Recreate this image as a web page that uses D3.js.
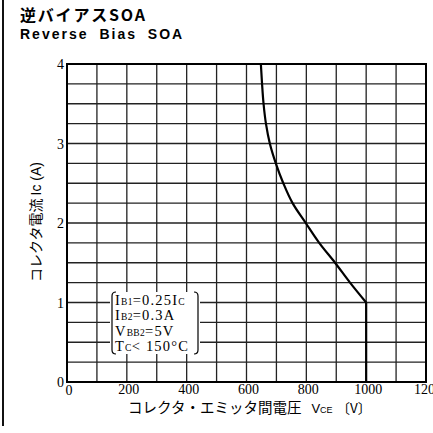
<!DOCTYPE html>
<html>
<head>
<meta charset="utf-8">
<script src="https://cdn.jsdelivr.net/npm/d3@7"></script>
<style>
  body { margin: 0; background: #fff; }
  svg { display: block; }
</style>
</head>
<body>
<svg></svg>
<script>
// curve of the reverse bias SOA
var vce = [648, 652, 657, 665, 678, 698, 723, 754, 798, 843, 896, 946, 1000, 1000];
var ic  = [4, 3.75, 3.5, 3.25, 3, 2.75, 2.5, 2.25, 2, 1.75, 1.5, 1.25, 1, 0];
var xTicks = [0, 200, 400, 600, 800, 1000, 1200];
var yTicks = [0, 1, 2, 3, 4];
var notes = [["I", "B1", "=0.25I", "C"], ["I", "B2", "=0.3A", ""], ["V", "BB2", "=5V", ""], ["T", "C", "< 150°C", ""]];

var width = 433;
var height = 433;
var pLeft = 67, pRight = 426, pTop = 64, pBottom = 382;

var svg = d3.select("svg")
            .attr("width", width)
            .attr("height", height);

var x = d3.scaleLinear().domain([0, 1200]).range([pLeft, pRight]);
var y = d3.scaleLinear().domain([0, 4]).range([pBottom, pTop]);

// scan border on the left
svg.append("line")
   .attr("x1", 3).attr("x2", 3)
   .attr("y1", 0).attr("y2", 426)
   .attr("stroke", "#111")
   .attr("stroke-width", 2);

// title
svg.append("text")
   .text("逆バイアスSOA")
   .attr("x", 20).attr("y", 21)
   .attr("font-family", "Noto Sans CJK JP")
   .attr("font-weight", "bold")
   .attr("font-size", 16)
   .attr("letter-spacing", 1.8);
svg.append("text")
   .text("Reverse Bias SOA")
   .attr("x", 20).attr("y", 39)
   .attr("font-family", "Liberation Sans")
   .attr("font-weight", "bold")
   .attr("font-size", 14)
   .attr("word-spacing", 5)
   .attr("letter-spacing", 2);

// grid
svg.selectAll("line.vg")
   .data(d3.range(100, 1200, 100))
   .enter()
   .append("line")
   .attr("class", "vg")
   .attr("x1", function(d) { return x(d); })
   .attr("x2", function(d) { return x(d); })
   .attr("y1", pTop).attr("y2", pBottom)
   .attr("stroke", "#222")
   .attr("stroke-width", 1.3);
svg.selectAll("line.hg")
   .data(d3.range(0.25, 4, 0.25))
   .enter()
   .append("line")
   .attr("class", "hg")
   .attr("x1", pLeft).attr("x2", pRight)
   .attr("y1", function(d) { return y(d); })
   .attr("y2", function(d) { return y(d); })
   .attr("stroke", "#222")
   .attr("stroke-width", 1.3);

svg.append("rect")
   .attr("x", pLeft).attr("y", pTop)
   .attr("width", pRight - pLeft).attr("height", pBottom - pTop)
   .attr("fill", "none")
   .attr("stroke", "#000")
   .attr("stroke-width", 2);

// SOA curve: smooth part down to 1 A, then straight drop at 1000 V
var pts = ic.map(function(d, i) { return [vce[i], d]; });
var curve = d3.line()
              .x(function(d) { return x(d[0]); })
              .y(function(d) { return y(d[1]); })
              .curve(d3.curveMonotoneY);
var straight = d3.line()
                 .x(function(d) { return x(d[0]); })
                 .y(function(d) { return y(d[1]); });
svg.append("path")
   .attr("d", curve(pts.slice(0, pts.length - 1)))
   .attr("fill", "none")
   .attr("stroke", "#000")
   .attr("stroke-width", 2.2);
svg.append("path")
   .attr("d", straight(pts.slice(pts.length - 2)))
   .attr("fill", "none")
   .attr("stroke", "#000")
   .attr("stroke-width", 2.2);

// tick labels
svg.selectAll("text.yt")
   .data(yTicks)
   .enter()
   .append("text")
   .attr("class", "yt")
   .text(function(d) { return d; })
   .attr("x", 64)
   .attr("y", function(d) { return y(d) + 5; })
   .attr("text-anchor", "end")
   .attr("font-family", "Liberation Serif")
   .attr("font-size", 14);
svg.selectAll("text.xt")
   .data(xTicks)
   .enter()
   .append("text")
   .attr("class", "xt")
   .text(function(d) { return d; })
   .attr("x", function(d) { return x(d) + 2; })
   .attr("y", function(d) { return d == 0 ? 395 : 394; })
   .attr("text-anchor", "middle")
   .attr("font-family", "Liberation Serif")
   .attr("font-size", 14);

// axis titles
var xt = svg.append("text")
   .attr("x", 128).attr("y", 413)
   .attr("font-family", "Noto Sans CJK JP")
   .attr("font-size", 14.5);
xt.append("tspan").text("コレクタ・エミッタ間電圧");
xt.append("tspan").text("V").attr("dx", 10).attr("font-family", "Liberation Sans").attr("font-size", 13);
xt.append("tspan").text("CE").attr("font-family", "Liberation Sans").attr("font-size", 9);
xt.append("tspan").text("〔V〕").attr("dx", 4).attr("font-size", 13.5);

var yt = svg.append("text")
   .attr("transform", "translate(41,222) rotate(-90)")
   .attr("text-anchor", "middle")
   .attr("font-family", "Noto Sans CJK JP")
   .attr("font-size", 14);
yt.append("tspan").text("コレクタ電流 ");
yt.append("tspan").text("Ic (A)").attr("font-family", "Liberation Sans");

// condition note
var nb = svg.append("g");
nb.append("rect")
  .attr("x", 110).attr("y", 292)
  .attr("width", 90).attr("height", 62)
  .attr("fill", "#fff");
nb.append("path")
  .attr("d", "M116,292 Q112,292 112,296 L112,350 Q112,354 116,354")
  .attr("fill", "none").attr("stroke", "#000").attr("stroke-width", 1.2);
nb.append("path")
  .attr("d", "M194,292 Q198,292 198,296 L198,350 Q198,354 194,354")
  .attr("fill", "none").attr("stroke", "#000").attr("stroke-width", 1.2);
nb.selectAll("text")
  .data(notes)
  .enter()
  .append("text")
  .attr("x", 115)
  .attr("y", function(d, i) { return 305 + i * 15.3; })
  .attr("font-family", "Liberation Serif")
  .attr("font-size", 14.5)
  .attr("letter-spacing", 1.2)
  .each(function(d) {
    var t = d3.select(this);
    t.append("tspan").text(d[0]);
    t.append("tspan").text(d[1]).attr("font-size", 9.5).attr("letter-spacing", 0.3);
    t.append("tspan").text(d[2]);
    if (d[3]) t.append("tspan").text(d[3]).attr("font-size", 9.5);
  });
</script>
</body>
</html>
